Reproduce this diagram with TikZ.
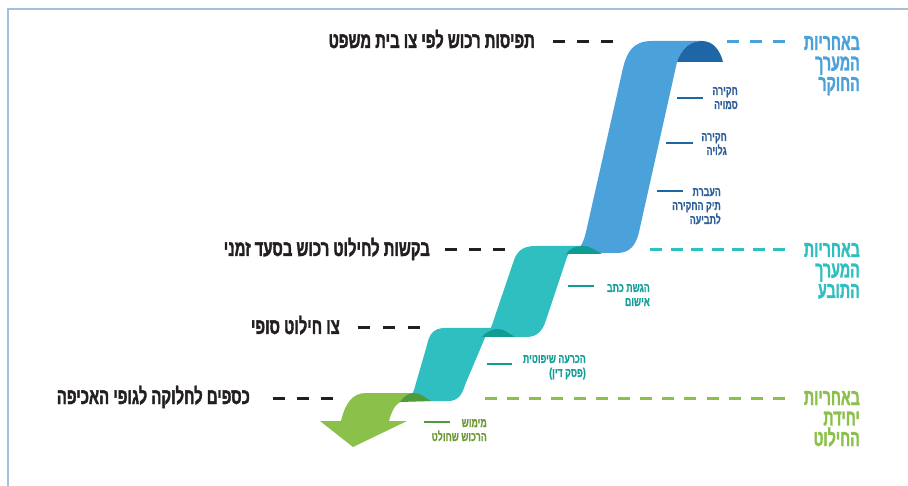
\documentclass[tikz,border=0pt]{standalone}
\usepackage{fontspec}
\TeXXeTstate=1
\newfontfamily\hebA[Script=Hebrew,FakeStretch=0.68,BoldFeatures={FakeBold=0.6}]{Liberation Sans}
\newfontfamily\hebB[Script=Hebrew,FakeStretch=0.62,BoldFeatures={FakeBold=1.2}]{Liberation Sans}
\newfontfamily\hebC[Script=Hebrew,FakeStretch=0.66,BoldFeatures={FakeBold=1.6}]{Liberation Sans}
\definecolor{ink}{HTML}{231F20}
\definecolor{lblue}{HTML}{4BA1DA}
\definecolor{dblue}{HTML}{1F66A6}
\definecolor{lteal}{HTML}{2FBFC1}
\definecolor{dteal}{HTML}{0F9C92}
\definecolor{lgreen}{HTML}{8BC04A}
\definecolor{dgreen}{HTML}{4F9A3A}
\definecolor{frame}{HTML}{A5C0DD}
\definecolor{tblue}{HTML}{2D5E99}
\definecolor{tteal}{HTML}{169E99}
\definecolor{tgreen}{HTML}{6C9A33}
\tikzset{
  lbl/.style={inner sep=0pt, anchor=base east, text=ink, font=\hebC\bfseries\fontsize{22.5}{24}\selectfont},
  hdr/.style={inner sep=0pt, anchor=base east, align=right, font=\hebB\bfseries\fontsize{23}{20.5}\selectfont},
  sml/.style={inner sep=0pt, anchor=base east, align=right, font=\hebA\bfseries\fontsize{13}{14}\selectfont},
  blackdash/.style={draw=ink, line width=3pt, dash pattern=on 12pt off 12pt},
  coldash/.style={line width=3pt},
  marker/.style={line width=1.5pt},
}
\begin{document}
\begin{tikzpicture}[x=1pt,y=-1pt]
\useasboundingbox (0,0) rectangle (908,486);
\fill[white] (0,0) rectangle (908,486);
% frame
\draw[frame, line width=2pt] (8,486) -- (8,9) -- (908,9);

% ribbon: green arrow
\fill[lgreen] (414,393) -- (366,393) .. controls (352,393) and (345,404) .. (341,421)
  -- (320,421) -- (353,447) -- (407,421) -- (389,421)
  .. controls (392,410) and (396,402) .. (404,401) -- cycle;
% teal 2
\fill[lteal] (495,328) -- (445,328) .. controls (433,328) and (429,335) .. (427,345)
  -- (414,390) .. controls (412,397) and (408,401) .. (400,401)
  -- (448,401) .. controls (458,401) and (462,395) .. (465,385)
  -- (484,340) .. controls (486,333) and (489,328) .. (495,328) -- cycle;
% teal 1
\fill[lteal] (585,246) -- (535,246) .. controls (521,246) and (516,253) .. (513,263)
  -- (492,325) .. controls (489,333) and (485,337) .. (478,337)
  -- (526,337) .. controls (538,337) and (543,330) .. (546,320)
  -- (567,257) .. controls (570,250) and (575,246) .. (585,246) -- cycle;
% blue
\fill[lblue] (702,41) -- (652,41) .. controls (633,41) and (627,52) .. (623,68)
  -- (586,232) .. controls (583,245) and (578,253) .. (568,253)
  -- (617,253) .. controls (630,253) and (636,245) .. (639,232)
  -- (677,62) .. controls (682,47) and (692,41) .. (702,41) -- cycle;
% folds
\fill[dblue] (677,62) .. controls (682,47) and (692,41) .. (702,41) .. controls (713,41) and (720,50) .. (723,62) -- cycle;
\fill[dteal] (566,254) .. controls (570,248) and (576,246) .. (583,246) .. controls (591,246) and (596,251) .. (602,254) -- cycle;
\fill[dteal] (482,337) .. controls (487,331) and (492,329) .. (498,329) .. controls (505,329) and (509,334) .. (515,337) -- cycle;
\fill[dgreen] (400,402) .. controls (404,396) and (409,393) .. (414,393) .. controls (421,393) and (425,398) .. (431,401) -- cycle;

% left labels
\node[lbl] (l1) at (535,48) {\beginR תפיסות רכוש לפי צו בית משפט\endR};
\node[lbl] (l2) at (430,256) {\beginR בקשות לחילוט רכוש בסעד זמני\endR};
\node[lbl] (l3) at (340,334) {\beginR צו חילוט סופי\endR};
\node[lbl] (l4) at (250,404) {\beginR כספים לחלוקה לגופי האכיפה\endR};
\coordinate (l1e) at (613,42);
\coordinate (l2e) at (505,250);
\coordinate (l3e) at (420,328);
\coordinate (l4e) at (333,398);
\draw[blackdash] (553,42) -- (l1e);
\draw[blackdash] (445,250) -- (l2e);
\draw[blackdash, dash pattern=on 12pt off 13pt] (358,328) -- (l3e);
\draw[blackdash] (273,398) -- (l4e);

% right headers (anchor = baseline of last line)
\node[hdr, text=lblue] (h1) at (860,91) {\beginR באחריות\endR\\\beginR המערך\endR\\\beginR החוקר\endR};
\node[hdr, text=lteal] (h2) at (860,298) {\beginR באחריות\endR\\\beginR המערך\endR\\\beginR התובע\endR};
\node[hdr, text=lgreen] (h3) at (860,446) {\beginR באחריות\endR\\\beginR יחידת\endR\\\beginR החילוט\endR};
\coordinate (h1s) at (727,42);
\coordinate (h2s) at (650,250);
\coordinate (h3s) at (485,398);
\draw[coldash, lblue, dash pattern=on 12pt off 11pt] (h1s) -- (785,42);
\draw[coldash, lteal, dash pattern=on 12pt off 8.5pt] (h2s) -- (785,250);
\draw[coldash, lgreen, dash pattern=on 12pt off 10.15pt] (h3s) -- (785,398);

% small labels (anchor = baseline of last line)
\node[sml, text=tblue] (s1) at (738,109) {\beginR חקירה\endR\\\beginR סמויה\endR};
\node[sml, text=tblue] (s2) at (727,155) {\beginR חקירה\endR\\\beginR גלויה\endR};
\node[sml, text=tblue] (s3) at (721,224) {\beginR העברת\endR\\\beginR תיק החקירה\endR\\\beginR לתביעה\endR};
\node[sml, text=tteal] (s4) at (650,306) {\beginR הגשת כתב\endR\\\beginR אישום\endR};
\node[sml, text=tteal] (s5) at (586,377) {\beginR הכרעה שיפוטית\endR\\)\beginR פסק דין\endR(};
\node[sml, text=tgreen] (s6) at (487,441) {\beginR מימוש\endR\\\beginR הרכוש שחולט\endR};
\coordinate (m1) at (677,98);
\coordinate (m2) at (666,143);
\coordinate (m3) at (657,191);
\coordinate (m4) at (568,286);
\coordinate (m5) at (487,364);
\coordinate (m6) at (424,422);
\draw[marker, dblue] (m1) -- (703,98);
\draw[marker, dblue] (m2) -- (693,143);
\draw[marker, dblue] (m3) -- (683,191);
\draw[marker, dteal] (m4) -- (594,286);
\draw[marker, dteal] (m5) -- (512,364);
\draw[marker, dgreen] (m6) -- (450,422);
\end{tikzpicture}
\end{document}
